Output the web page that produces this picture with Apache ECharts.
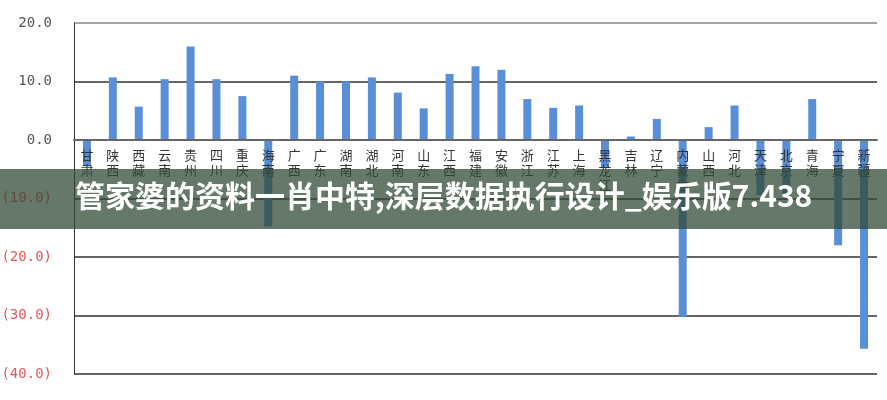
<!DOCTYPE html>
<html>
<head>
<meta charset="utf-8">
<script src="https://cdn.jsdelivr.net/npm/echarts@6/dist/echarts.min.js"></script>
<style>html,body{margin:0;padding:0;background:#fff;}#c{width:887px;height:400px;}</style>
</head>
<body>
<div id="c"></div>
<script>
var provinces = ['甘肃','陕西','西藏','云南','贵州','四川','重庆','海南','广西','广东','湖南','湖北','河南','山东','江西','福建','安徽','浙江','江苏','上海','黑龙江','吉林','辽宁','内蒙古','山西','河北','天津','北京','青海','宁夏','新疆'];
var values = [-4.5,10.7,5.7,10.4,16.0,10.4,7.5,-14.8,11.0,10.0,10.0,10.7,8.1,5.4,11.3,12.6,12.0,7.0,5.5,5.9,-4.8,0.6,3.6,-30.2,2.2,5.9,-9.4,-10.0,7.0,-18.0,-35.7];
var yTicks = [-40,-30,-20,-10,0,10,20];
var bannerText = '管家婆的资料一肖中特,深层数据执行设计_娱乐版7.438';

var chart = echarts.init(document.getElementById('c'));
chart.setOption({
  animation: false,
  grid: {left: 74, right: 10, top: 23, bottom: 26, containLabel: false, outerBoundsMode: 'none'},
  xAxis: {
    type: 'category',
    data: provinces,
    position: 'bottom',
    offset: 0,
    z: 10,
    axisLine: {onZero: false, lineStyle: {color: '#666', width: 2}},
    axisTick: {inside: true, length: 4, lineStyle: {color: '#555'}},
    axisLabel: {
      interval: 0, margin: 8, color: '#333', fontSize: 13, lineHeight: 15,
      fontFamily: 'Noto Sans CJK SC',
      formatter: function (v) { return v.split('').join('\n'); }
    }
  },
  yAxis: {
    type: 'value', min: yTicks[0], max: yTicks[yTicks.length - 1], interval: 10,
    axisLine: {show: true, lineStyle: {color: '#333', width: 1}},
    axisTick: {show: false},
    splitLine: {lineStyle: {color: ['#333','#333','#333','#333','#333','#333','#8a8a8a'], width: 1.6}},
    axisLabel: {
      margin: 22, fontSize: 14, fontFamily: 'DejaVu Sans Mono',
      formatter: function (v) {
        return v < 0 ? '{n|(' + Math.abs(v).toFixed(1) + ')}' : '{p|' + v.toFixed(1) + '}';
      },
      rich: {n: {color: '#e0585c', fontSize: 14, fontFamily: 'DejaVu Sans Mono'}, p: {color: '#555', fontSize: 14, fontFamily: 'DejaVu Sans Mono'}}
    }
  },
  series: [{
    type: 'bar', data: values, barWidth: 8, z: 2,
    itemStyle: {color: '#5a8fd8'}
  }],
  graphic: [
    {type: 'rect', left: 0, top: 169, shape: {width: 887, height: 60}, style: {fill: 'rgba(50,75,55,0.75)'}, z: 100},
    {type: 'text', left: 75, top: 181, style: {text: bannerText, fill: '#fff', font: 'bold 30px "Noto Sans CJK SC"'}, z: 101}
  ]
});
// move the category axis to the zero line using the value axis scale
var zeroY = chart.convertToPixel({yAxisIndex: 0}, 0);
var minY = chart.convertToPixel({yAxisIndex: 0}, yTicks[0]);
chart.setOption({xAxis: {offset: -(minY - zeroY)}});
</script>
</body>
</html>
